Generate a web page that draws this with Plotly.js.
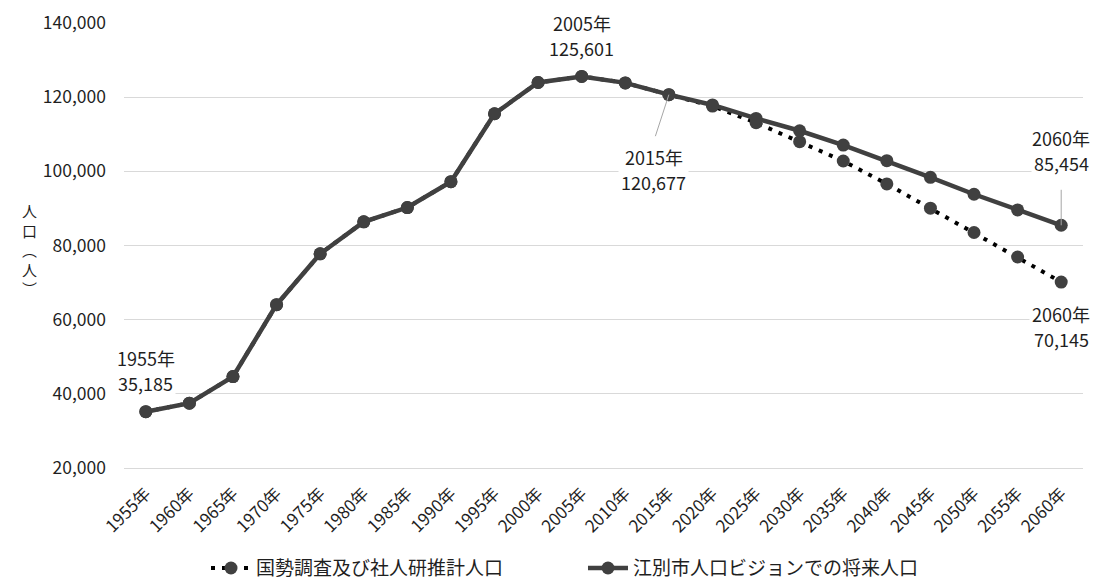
<!DOCTYPE html>
<html>
<head>
<meta charset="utf-8">
<script src="https://cdn.plot.ly/plotly-3.0.1.min.js"></script>
<style>html,body{margin:0;padding:0;background:#fff;}#chart{width:1093px;height:584px;}</style>
</head>
<body>
<div id="chart"></div>
<script>
const years = ["1955年","1960年","1965年","1970年","1975年","1980年","1985年","1990年","1995年","2000年","2005年","2010年","2015年","2020年","2025年","2030年","2035年","2040年","2045年","2050年","2055年","2060年"];
const censusEstimate = [35185,37490,44650,64040,77760,86380,90240,97200,115530,123950,125601,123850,120677,117600,113100,108000,102780,96600,90060,83500,76900,70145];
const visionProjection = [35185,37490,44650,64040,77760,86380,90240,97200,115530,123950,125601,123850,120677,117900,114270,110940,107090,102870,98390,93820,89600,85454];
const seriesNames = ["国勢調査及び社人研推計人口","江別市人口ビジョンでの将来人口"];
const yTitle = "人<br>口<br>︵<br>人<br>︶";

const FONT = "'Noto Sans CJK JP', 'Noto Sans', sans-serif";
const TXT = "#1f1f1f";
const fmt = v => v.toLocaleString("en-US");

const traces = [
  {
    x: years, y: censusEstimate, name: seriesNames[0], type: "scatter", mode: "lines+markers",
    line: {color: "#000000", width: 4, dash: "4px,7px"},
    marker: {color: "#404040", size: 13}
  },
  {
    x: years, y: visionProjection, name: seriesNames[1], type: "scatter", mode: "lines+markers",
    line: {color: "#404040", width: 4.5},
    marker: {color: "#404040", size: 13}
  }
];

const labelFont = {family: FONT, size: 18, color: TXT};
// two-line data labels: year line and value line as separate texts
function dataLabel(idx, series, shiftTop, extra) {
  const base = Object.assign({x: years[idx], y: series[idx], showarrow: false, bgcolor: "#fff", borderpad: 2, font: labelFont}, extra || {});
  return [
    Object.assign({}, base, {text: years[idx], yshift: shiftTop}),
    Object.assign({}, base, {text: fmt(series[idx]), yshift: shiftTop - 25})
  ];
}
const annotations = [].concat(
  dataLabel(0, visionProjection, 54),
  dataLabel(10, visionProjection, 53),
  dataLabel(21, censusEstimate, -32),
  [
    {x: years[12], y: visionProjection[12], text: years[12], showarrow: false, xshift: -15, yshift: -62, bgcolor: "#fff", borderpad: 2, font: labelFont},
    {x: years[12], y: visionProjection[12], text: fmt(visionProjection[12]), showarrow: false, xshift: -15, yshift: -87, bgcolor: "#fff", borderpad: 2, font: labelFont},
    {x: years[12], y: visionProjection[12], text: "", showarrow: true, arrowhead: 0, arrowwidth: 1, arrowcolor: "#a6a6a6", ax: -14, ay: 43, standoff: 0},
    {x: years[21], y: visionProjection[21], text: years[21], showarrow: false, yshift: 87, bgcolor: "#fff", borderpad: 2, font: labelFont},
    {x: years[21], y: visionProjection[21], text: fmt(visionProjection[21]), showarrow: false, yshift: 62, bgcolor: "#fff", borderpad: 2, font: labelFont},
    {x: years[21], y: visionProjection[21], text: "", showarrow: true, arrowhead: 0, arrowwidth: 1, arrowcolor: "#a6a6a6", ax: 0, ay: -37, standoff: 0},
    {xref: "paper", yref: "paper", x: -0.108, y: 0.49, text: yTitle, showarrow: false, font: {family: FONT, size: 15, color: TXT}}
  ]
);

const layout = {
  width: 1093, height: 584,
  margin: {l: 124, r: 10, t: 22.7, b: 116, autoexpand: false},
  paper_bgcolor: "#fff", plot_bgcolor: "#fff",
  font: {family: FONT, size: 17, color: TXT},
  showlegend: true,
  legend: {orientation: "h", x: 0.0855, xanchor: "left", y: -0.225, yanchor: "middle", font: {family: FONT, size: 19, color: TXT}, itemwidth: 40, entrywidth: 322},
  xaxis: {type: "category", range: [-0.5, 21.5], tickangle: -45, showgrid: false, showline: true, linecolor: "#d9d9d9", linewidth: 1, ticks: "", ticklabelstandoff: 8, tickfont: {family: FONT, size: 17, color: TXT}, zeroline: false},
  yaxis: {range: [20000, 140000], dtick: 20000, tickformat: ",d", showgrid: true, gridcolor: "#d9d9d9", gridwidth: 1.3, zeroline: false, showline: false, ticks: "", ticklabelstandoff: 17, tickfont: {family: FONT, size: 17.5, color: TXT}},
  annotations: annotations
};

Plotly.newPlot("chart", traces, layout, {displayModeBar: false, staticPlot: true});
</script>
</body>
</html>
